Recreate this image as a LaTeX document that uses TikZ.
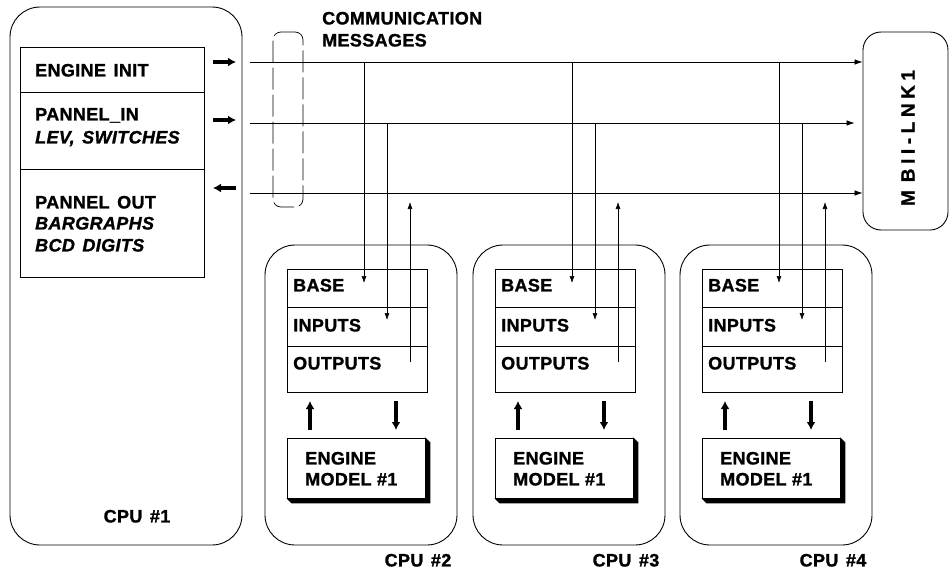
\documentclass[tikz,border=0pt]{standalone}
\usepackage{fontspec}
\setmainfont[LetterSpace=2,BoldFeatures={FakeBold=1.2},BoldItalicFeatures={FakeBold=1.2}]{Liberation Sans}
\usetikzlibrary{arrows.meta}
\newcommand\wsp{\hspace{0.42em}}
\begin{document}
\begin{tikzpicture}[x=1pt,y=-1pt,
  lbl/.style={font=\fontsize{18}{21}\selectfont\bfseries, inner sep=0pt, anchor=west, text height=12.9pt, text depth=0pt},
  ilbl/.style={lbl, font=\fontsize{18}{21}\selectfont\bfseries\itshape},
  clbl/.style={lbl, anchor=center},
  cpubox/.style={draw, line width=0.9pt, rounded corners=30pt, inner sep=0pt},
  cell/.style={draw, line width=0.8pt, inner sep=0pt, minimum width=#1},
  engbox/.style={draw, line width=0.9pt, fill=white, inner sep=0pt, minimum width=138pt, minimum height=60pt},
  bus/.style={line width=0.7pt, -{Latex[length=8pt,width=5.5pt]}},
  vline/.style={line width=0.6pt, -{Latex[length=7pt,width=5pt]}},
  fat/.style={line width=3.2pt, -{Latex[length=8pt,width=9pt]}}
]
\useasboundingbox (0,0) rectangle (949,570);

% CPU #1
\node[cpubox, minimum width=232pt, minimum height=538pt] (cpu1) at (126,276) {};
\node[cell=184pt, minimum height=45pt] (r1) at (112,69.5) {};
\node[cell=184pt, minimum height=77pt] (r2) at (112,130.5) {};
\node[cell=184pt, minimum height=108pt] (r3) at (112,223) {};
\node[lbl] (t1) at (35,70) {ENGINE\wsp INIT};
\node[lbl] (t2) at (35,114) {PANNEL\_IN};
\node[ilbl] (t3) at (35,137) {LEV,\wsp SWITCHES};
\node[lbl] (t4) at (35,202) {PANNEL\wsp OUT};
\node[ilbl] (t5) at (35,223) {BARGRAPHS};
\node[ilbl] (t6) at (35,245) {BCD\wsp DIGITS};
\node[clbl] (c1) at (137,516) {CPU\wsp \#1};

% short thick arrows
\coordinate (a1s) at (213,62); \coordinate (a1e) at (236,62);
\coordinate (a2s) at (213,120); \coordinate (a2e) at (236,120);
\coordinate (a3s) at (236,188); \coordinate (a3e) at (213,188);
\draw[fat] (a1s) -- (a1e);
\draw[fat] (a2s) -- (a2e);
\draw[fat] (a3s) -- (a3e);

% MBII-LNK1 box
\node[draw, line width=0.9pt, rounded corners=18pt, minimum width=85pt, minimum height=198pt, inner sep=0pt] (mb) at (905.5,131) {};
\node[font=\fontsize{19}{22}\selectfont\bfseries\addfontfeature{LetterSpace=24}, rotate=90, inner sep=0pt] (mbt) at (908,138) {M\hspace{8pt}BII-LNK1};

% communication messages bracket
\node[draw, dash pattern=on 22pt off 5pt, line width=0.7pt, rounded corners=8pt, minimum width=30pt, minimum height=175pt, inner sep=0pt] (cm) at (288,119.5) {};
\node[lbl] (cmt1) at (322,18) {COMMUNICATION};
\node[lbl] (cmt2) at (322,40) {MESSAGES};

% buses
\coordinate (b1) at (250,62);
\coordinate (b2) at (250,123);
\coordinate (b3) at (250,193);
\draw[bus] (b1) -- (b1 -| mb.west);
\draw[bus, shorten >=8pt] (b2) -- (b2 -| mb.west);
\draw[bus] (b3) -- (b3 -| mb.west);

% CPUs 2-4
\foreach \i/\dx in {2/0,3/208,4/415}{
  \node[cpubox, minimum width=192pt, minimum height=300pt] (cpu\i) at (361+\dx,395) {};
  \node[cell=140pt, minimum height=38pt] (base\i) at (357+\dx,288) {};
  \node[cell=140pt, minimum height=39pt] (inp\i) at (357+\dx,326.5) {};
  \node[cell=140pt, minimum height=46pt] (out\i) at (357+\dx,369) {};
  \node[lbl] (tb\i) at (293+\dx,285) {BASE};
  \node[lbl] (ti\i) at (293+\dx,325) {INPUTS};
  \node[lbl] (to\i) at (293+\dx,363) {OUTPUTS};
  \node[engbox] (eng\i) at (356+\dx,468) {};
  \fill (eng\i.north east) -- ([shift={(5,5)}]eng\i.north east) -- ([shift={(5,5)}]eng\i.south east) -- ([shift={(5,5)}]eng\i.south west) -- (eng\i.south west) -- cycle;
  \node[engbox] at (356+\dx,468) {};
  \node[lbl] (te\i) at (305+\dx,458) {ENGINE};
  \node[lbl] (tm\i) at (305+\dx,479) {MODEL \#1};
  \node[clbl] (cl\i) at (418+\dx,560) {CPU\wsp \#\i};
  % bus taps
  \coordinate (d1s\i) at (364+\dx,62);  \coordinate (d1e\i) at (364+\dx,283);
  \coordinate (d2s\i) at (387+\dx,123); \coordinate (d2e\i) at (387+\dx,320);
  \coordinate (us\i) at (410+\dx,362);  \coordinate (ue\i) at (410+\dx,202);
  \draw[vline] (d1s\i) -- (d1e\i);
  \draw[vline] (d2s\i) -- (d2e\i);
  \draw[vline] (us\i) -- (ue\i);
  % table <-> engine
  \coordinate (fu1\i) at (310+\dx,430); \coordinate (fu2\i) at (310+\dx,401);
  \coordinate (fd1\i) at (396+\dx,401); \coordinate (fd2\i) at (396+\dx,430);
  \draw[fat] (fu1\i) -- (fu2\i);
  \draw[fat] (fd1\i) -- (fd2\i);
}
\end{tikzpicture}
\end{document}
